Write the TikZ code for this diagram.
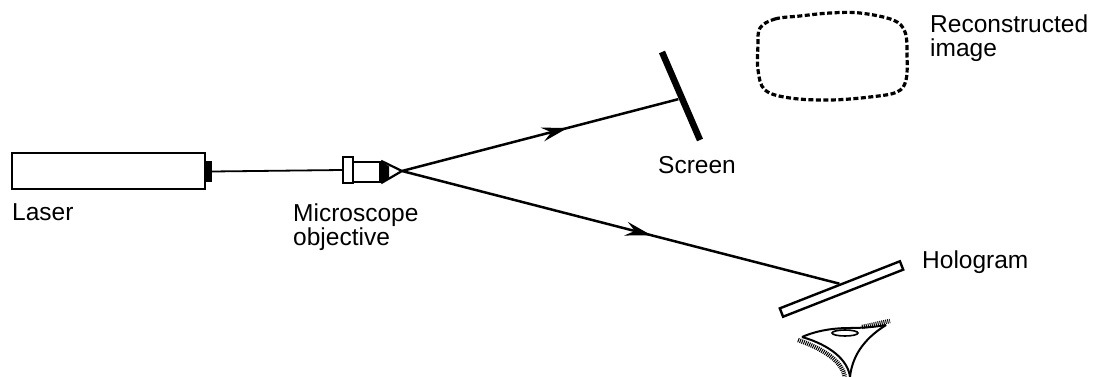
\documentclass[tikz,border=0pt]{standalone}
\usepackage{fontspec}
\setmainfont{Liberation Sans}
\usetikzlibrary{arrows.meta,decorations.markings}
\begin{document}
\begin{tikzpicture}[x=1pt,y=-1pt,
  lbl/.style={anchor=base west,inner sep=0pt,align=left,
    font=\fontsize{24.5}{24}\selectfont},
  boxpart/.style={draw,line width=2.8pt,inner sep=0pt,fill=white},
  beam/.style={line width=2.5pt},
  midarrow/.style={postaction={decorate},decoration={markings,
    mark=at position #1 with {\arrow{Stealth[length=26pt,width=14pt,inset=9pt]}}}}]
\useasboundingbox (0,0) rectangle (1113,377);

% laser tube and its output cap
\node[boxpart,minimum width=193pt,minimum height=36pt] (laser) at (108.5,171) {};
\node[fill=black,inner sep=0pt,minimum width=7pt,minimum height=21pt] (cap) at (208.5,171.5) {};

% microscope objective: mount ring, barrel and tapered nose
\node[boxpart,line width=2pt,minimum width=10pt,minimum height=26pt] (mount) at (348,170) {};
\node[boxpart,line width=2.3pt,minimum width=27pt,minimum height=20pt] (barrel) at (366.5,172) {};
\coordinate (focus) at (402,171);
\fill (barrel.north east) -- (389,166.5) -- (389,177.5) -- (barrel.south east) -- cycle;
\draw[line width=2.2pt] (barrel.north east) -- (focus);
\draw[line width=2.2pt] (barrel.south east) -- (focus);

\draw[line width=1.8pt] (cap.east) -- (mount.west);

% screen and hologram
\node[draw=none,inner sep=0pt] (screen) at (679,99) {};
\draw[line width=6.5pt] (662,52) -- (700,140);
\node[draw,line width=2.4pt,inner sep=0pt,minimum width=129pt,minimum height=9pt,
  rotate=21.4] (holo) at (841.5,289) {};

% diverging beams
\draw[beam,midarrow=0.6] (focus) -- (screen);
\draw[beam,midarrow=0.57] (focus) -- (holo.north);

% reconstructed virtual image
\draw[line width=3.2pt,dash pattern=on 5pt off 2.5pt]
  plot[smooth cycle,tension=0.6] coordinates {
  (760,28) (775,19) (800,16) (830,13) (860,13) (893,20) (905,32)
  (907,55) (906,80) (897,92) (870,97) (830,100) (790,98) (765,90)
  (758,70) (758,45)};

% observer's eye
\draw[line width=2pt] (802,337) .. controls (818,330) and (835,328) .. (850,328)
  .. controls (862,328) and (875,327) .. (886,325);
\draw[line width=2pt] (802,337) .. controls (830,345) and (848,360) .. (850,377);
\draw[line width=2pt] (886,325) .. controls (862,340) and (852,358) .. (850,377);
\draw[line width=1.6pt] (845,333) ellipse[x radius=13pt,y radius=3pt];
\draw[line width=4.5pt,dash pattern=on 1pt off 1pt]
  (798,340) .. controls (826,350) and (842,362) .. (845,377);
\draw[line width=4.5pt,dash pattern=on 1pt off 1pt]
  (862,327) .. controls (872,325) and (880,323) .. (890,321);

% labels
\node[lbl] (tLaser) at (12,220) {Laser};
\node[lbl] (tMicro) at (293,245) {Microscope\\objective};
\node[lbl] (tScreen) at (658,173) {Screen};
\node[lbl] (tHolo) at (922,268) {Hologram};
\node[lbl] (tRecon) at (930,57) {Reconstructed\\image};
\end{tikzpicture}
\end{document}
